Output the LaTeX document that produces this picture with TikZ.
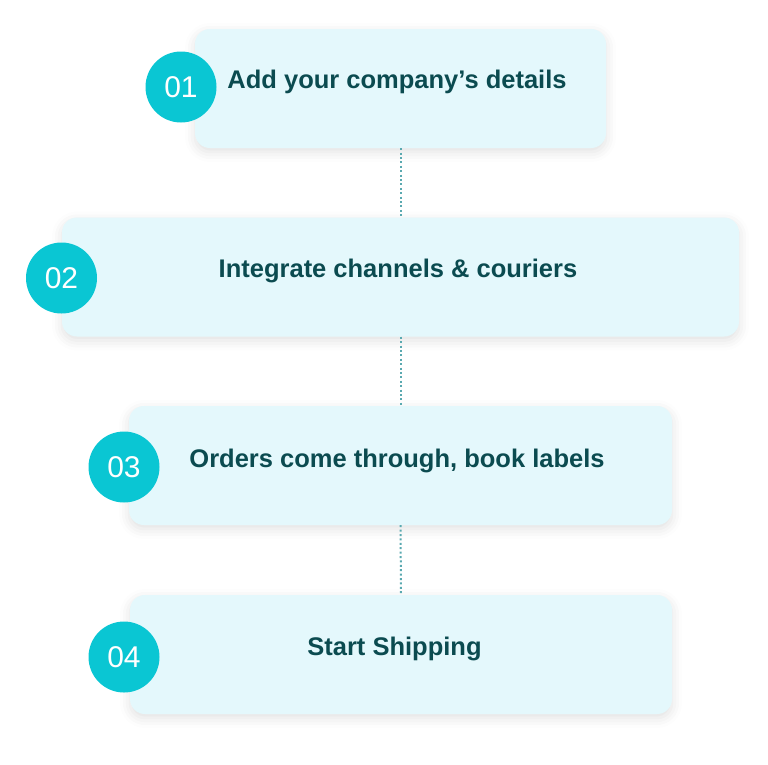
\documentclass[tikz,border=0pt]{standalone}
\usepackage{fontspec}
\setmainfont{Liberation Sans}
\usetikzlibrary{shadows.blur, positioning}
\definecolor{stepfill}{HTML}{E4F8FC}
\definecolor{badgecyan}{HTML}{0AC6D3}
\definecolor{titleteal}{HTML}{0B4B50}
\definecolor{dotteal}{HTML}{5AA9B0}

\begin{document}
\begin{tikzpicture}[x=1pt,y=-1pt,
    stepcard/.style={draw=none, fill=stepfill, rounded corners=15pt, minimum height=119pt,
      blur shadow={shadow xshift=0pt, shadow yshift=-4pt, shadow blur radius=10pt, shadow opacity=12}},
    badge/.style={circle, fill=badgecyan, minimum size=71pt, inner sep=0pt,
      text=white, font=\fontsize{30}{31}\selectfont},
    steptitle/.style={text=titleteal, font=\fontsize{25.5}{28}\selectfont\bfseries, inner sep=0pt},
    dotline/.style={draw=dotteal, line width=2pt, dash pattern=on 2pt off 2.4pt}]

    \useasboundingbox (0,0) rectangle (768,764);

    % cards
    \node[stepcard, minimum width=411pt] (Card1) at (400.5,88.5) {};
    \node[stepcard, minimum width=677pt] (Card2) at (400.5,277) {};
    \node[stepcard, minimum width=543pt] (Card3) at (400.5,465.5) {};
    \node[stepcard, minimum width=542pt] (Card4) at (401,654.5) {};

    % dotted links
    \draw[dotline] (Card1.south) -- (Card2.north);
    \draw[dotline] (Card2.south) -- (Card3.north);
    \draw[dotline] (Card3.south) -- (Card4.north);

    % badges
    \node[badge] (Num1) at (181,87) {01};
    \node[badge] (Num2) at (61.5,278) {02};
    \node[badge] (Num3) at (124,467) {03};
    \node[badge] (Num4) at (124,657) {04};

    % titles
    \node[steptitle] (Title1) at (397,82) {Add your company’s details};
    \node[steptitle] (Title2) at (398,271) {Integrate channels \& couriers};
    \node[steptitle] (Title3) at (397,461) {Orders come through, book labels};
    \node[steptitle] (Title4) at (394.5,649) {Start Shipping};
\end{tikzpicture}
\end{document}
